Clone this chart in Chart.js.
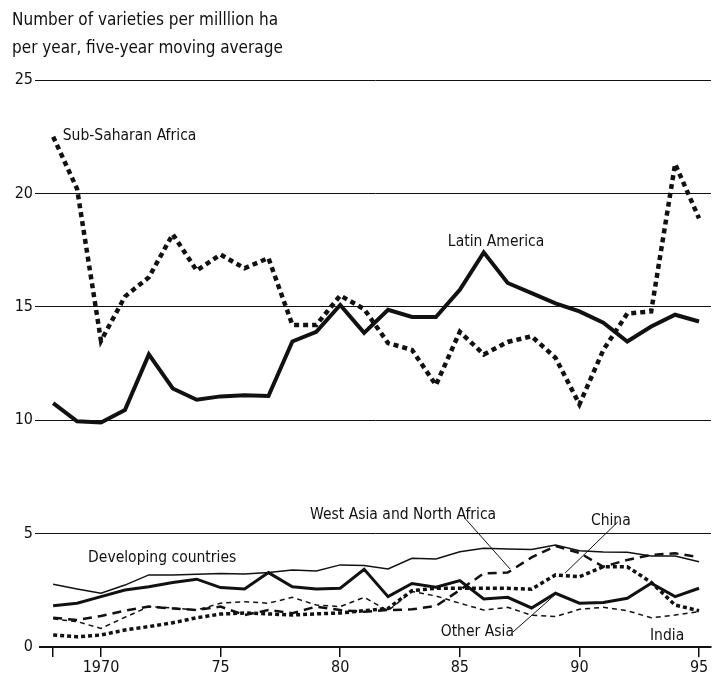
<!DOCTYPE html>
<html>
<head>
<meta charset="utf-8">
<script src="https://cdn.jsdelivr.net/npm/chart.js@4.4.1/dist/chart.umd.min.js"></script>
<style>
  html, body { margin: 0; padding: 0; background: #fff; }
</style>
</head>
<body>
<canvas id="chart" width="713" height="679"></canvas>
<script>
const years = [1968, 1969, 1970, 1971, 1972, 1973, 1974, 1975, 1976, 1977,
               1978, 1979, 1980, 1981, 1982, 1983, 1984, 1985, 1986, 1987,
               1988, 1989, 1990, 1991, 1992, 1993, 1994, 1995];

const subSaharanAfrica = [22.5, 20.2, 13.5, 15.45, 16.3, 18.2, 16.6, 17.3, 16.7, 17.15,
                          14.2, 14.2, 15.5, 14.9, 13.4, 13.1, 11.55, 13.9, 12.9, 13.45,
                          13.7, 12.75, 10.7, 13.1, 14.7, 14.8, 21.3, 18.9];
const latinAmerica = [10.75, 9.95, 9.9, 10.45, 12.9, 11.4, 10.9, 11.05, 11.1, 11.07,
                      13.47, 13.9, 15.08, 13.85, 14.87, 14.55, 14.55, 15.75, 17.4, 16.05,
                      15.6, 15.15, 14.8, 14.3, 13.47, 14.13, 14.65, 14.35];
const developingCountries = [2.77, 2.56, 2.37, 2.73, 3.18, 3.18, 3.21, 3.24, 3.22, 3.28,
                             3.4, 3.35, 3.62, 3.59, 3.44, 3.91, 3.88, 4.2, 4.35, 4.32,
                             4.3, 4.5, 4.24, 4.19, 4.18, 4.01, 4.01, 3.76];
const otherAsia = [1.82, 1.93, 2.22, 2.51, 2.66, 2.84, 2.99, 2.62, 2.56, 3.28,
                   2.66, 2.56, 2.59, 3.43, 2.22, 2.8, 2.64, 2.93, 2.12, 2.19,
                   1.72, 2.37, 1.93, 1.96, 2.15, 2.81, 2.22, 2.59];
const westAsiaNorthAfrica = [1.29, 1.19, 1.37, 1.6, 1.78, 1.7, 1.63, 1.78, 1.41, 1.63,
                             1.49, 1.78, 1.63, 1.55, 1.63, 1.66, 1.81, 2.51, 3.25, 3.28,
                             3.95, 4.45, 4.15, 3.54, 3.84, 4.06, 4.13, 3.96];
const china = [0.53, 0.45, 0.53, 0.75, 0.9, 1.07, 1.29, 1.45, 1.5, 1.46,
               1.41, 1.46, 1.5, 1.6, 1.7, 2.48, 2.59, 2.59, 2.59, 2.59,
               2.55, 3.18, 3.1, 3.54, 3.54, 2.85, 1.85, 1.6];
const india = [1.24, 1.12, 0.82, 1.31, 1.78, 1.72, 1.63, 1.93, 2.0, 1.93,
               2.19, 1.85, 1.78, 2.19, 1.6, 2.45, 2.25, 1.93, 1.63, 1.75,
               1.4, 1.34, 1.66, 1.75, 1.6, 1.29, 1.41, 1.56];

const xTickValues = [1968, 1970, 1975, 1980, 1985, 1990, 1995];
const xTickLabels = ['', '1970', '75', '80', '85', '90', '95'];
const yTickValues = [0, 5, 10, 15, 20, 25];

const titleLines = ['Number of varieties per milllion ha', 'per year, five-year moving average'];

const FONT = '"Liberation Sans Narrow", "DejaVu Sans Condensed", "Roboto Condensed", sans-serif';
const INK = '#111';

// series labels placed in data units
const notes = [
  { text: 'Sub-Saharan Africa', x: 1968.4, y: 22.55 },
  { text: 'Latin America', x: 1984.5, y: 17.86 },
  { text: 'West Asia and North Africa', x: 1978.74, y: 5.82 },
  { text: 'China', x: 1990.48, y: 5.56 },
  { text: 'Developing countries', x: 1969.46, y: 3.92 },
  { text: 'Other Asia', x: 1984.2, y: 0.66 },
  { text: 'India', x: 1992.95, y: 0.49 }
];
const leaders = [
  [1985.2, 5.69, 1987.1, 3.44],
  [1991.6, 5.51, 1989.4, 3.26],
  [1987.22, 0.66, 1989.06, 2.38]
];

const toPoints = (vals) => years.map((yr, i) => ({ x: yr, y: vals[i] }));

const labelPlugin = {
  id: 'labels',
  afterDatasetsDraw(chart) {
    const { ctx, scales: { x, y } } = chart;
    ctx.save();
    ctx.fillStyle = INK;
    ctx.font = '15.5px ' + FONT;
    ctx.textBaseline = 'middle';
    ctx.textAlign = 'left';
    notes.forEach(n => {
      ctx.fillText(n.text, x.getPixelForValue(n.x), y.getPixelForValue(n.y));
    });
    ctx.strokeStyle = INK;
    ctx.lineWidth = 1;
    leaders.forEach(l => {
      ctx.beginPath();
      ctx.moveTo(x.getPixelForValue(l[0]), y.getPixelForValue(l[1]));
      ctx.lineTo(x.getPixelForValue(l[2]), y.getPixelForValue(l[3]));
      ctx.stroke();
    });
    // axis title, top left
    ctx.font = '17px ' + FONT;
    ctx.fillText(titleLines[0], 12, 21);
    ctx.fillText(titleLines[1], 12, 49);
    ctx.restore();
  }
};

new Chart(document.getElementById('chart'), {
  type: 'line',
  data: {
    datasets: [
      { label: 'Sub-Saharan Africa', data: toPoints(subSaharanAfrica), borderColor: INK, borderWidth: 4.5, borderDash: [5, 4] },
      { label: 'Latin America', data: toPoints(latinAmerica), borderColor: INK, borderWidth: 4 },
      { label: 'Developing countries', data: toPoints(developingCountries), borderColor: INK, borderWidth: 1.5 },
      { label: 'Other Asia', data: toPoints(otherAsia), borderColor: INK, borderWidth: 3 },
      { label: 'West Asia and North Africa', data: toPoints(westAsiaNorthAfrica), borderColor: INK, borderWidth: 2.5, borderDash: [9, 6] },
      { label: 'China', data: toPoints(china), borderColor: INK, borderWidth: 3.5, borderDash: [4, 3] },
      { label: 'India', data: toPoints(india), borderColor: INK, borderWidth: 1.5, borderDash: [5, 4] }
    ]
  },
  options: {
    responsive: false,
    animation: false,
    devicePixelRatio: 1,
    layout: { padding: { top: 80, right: 2, left: 0, bottom: 0 } },
    elements: {
      point: { radius: 0 },
      line: { tension: 0, fill: false, borderCapStyle: 'butt' }
    },
    plugins: {
      legend: { display: false },
      tooltip: { enabled: false }
    },
    scales: {
      x: {
        type: 'linear',
        min: 1967.45,
        max: 1995.5,
        afterBuildTicks: (axis) => { axis.ticks = xTickValues.map(v => ({ value: v })); },
        afterFit: (axis) => { axis.height = 32; },
        ticks: {
          autoSkip: false,
          maxRotation: 0,
          padding: 1,
          color: INK,
          font: { family: FONT, size: 16 },
          callback: (v) => xTickLabels[xTickValues.indexOf(v)]
        },
        grid: { drawOnChartArea: false, drawTicks: true, tickLength: 10, color: INK, lineWidth: 1.5 },
        border: { display: true, color: INK, width: 2 }
      },
      y: {
        min: 0,
        max: 25,
        afterBuildTicks: (axis) => { axis.ticks = yTickValues.map(v => ({ value: v })); },
        afterFit: (axis) => { axis.width = 40; },
        ticks: {
          padding: 2,
          color: INK,
          font: { family: FONT, size: 16 }
        },
        grid: {
          drawTicks: true,
          tickLength: 5,
          lineWidth: 1,
          color: (c) => (c.tick && c.tick.value === 0) ? 'rgba(0,0,0,0)' : INK
        },
        border: { display: false }
      }
    }
  },
  plugins: [labelPlugin]
});
</script>
</body>
</html>
